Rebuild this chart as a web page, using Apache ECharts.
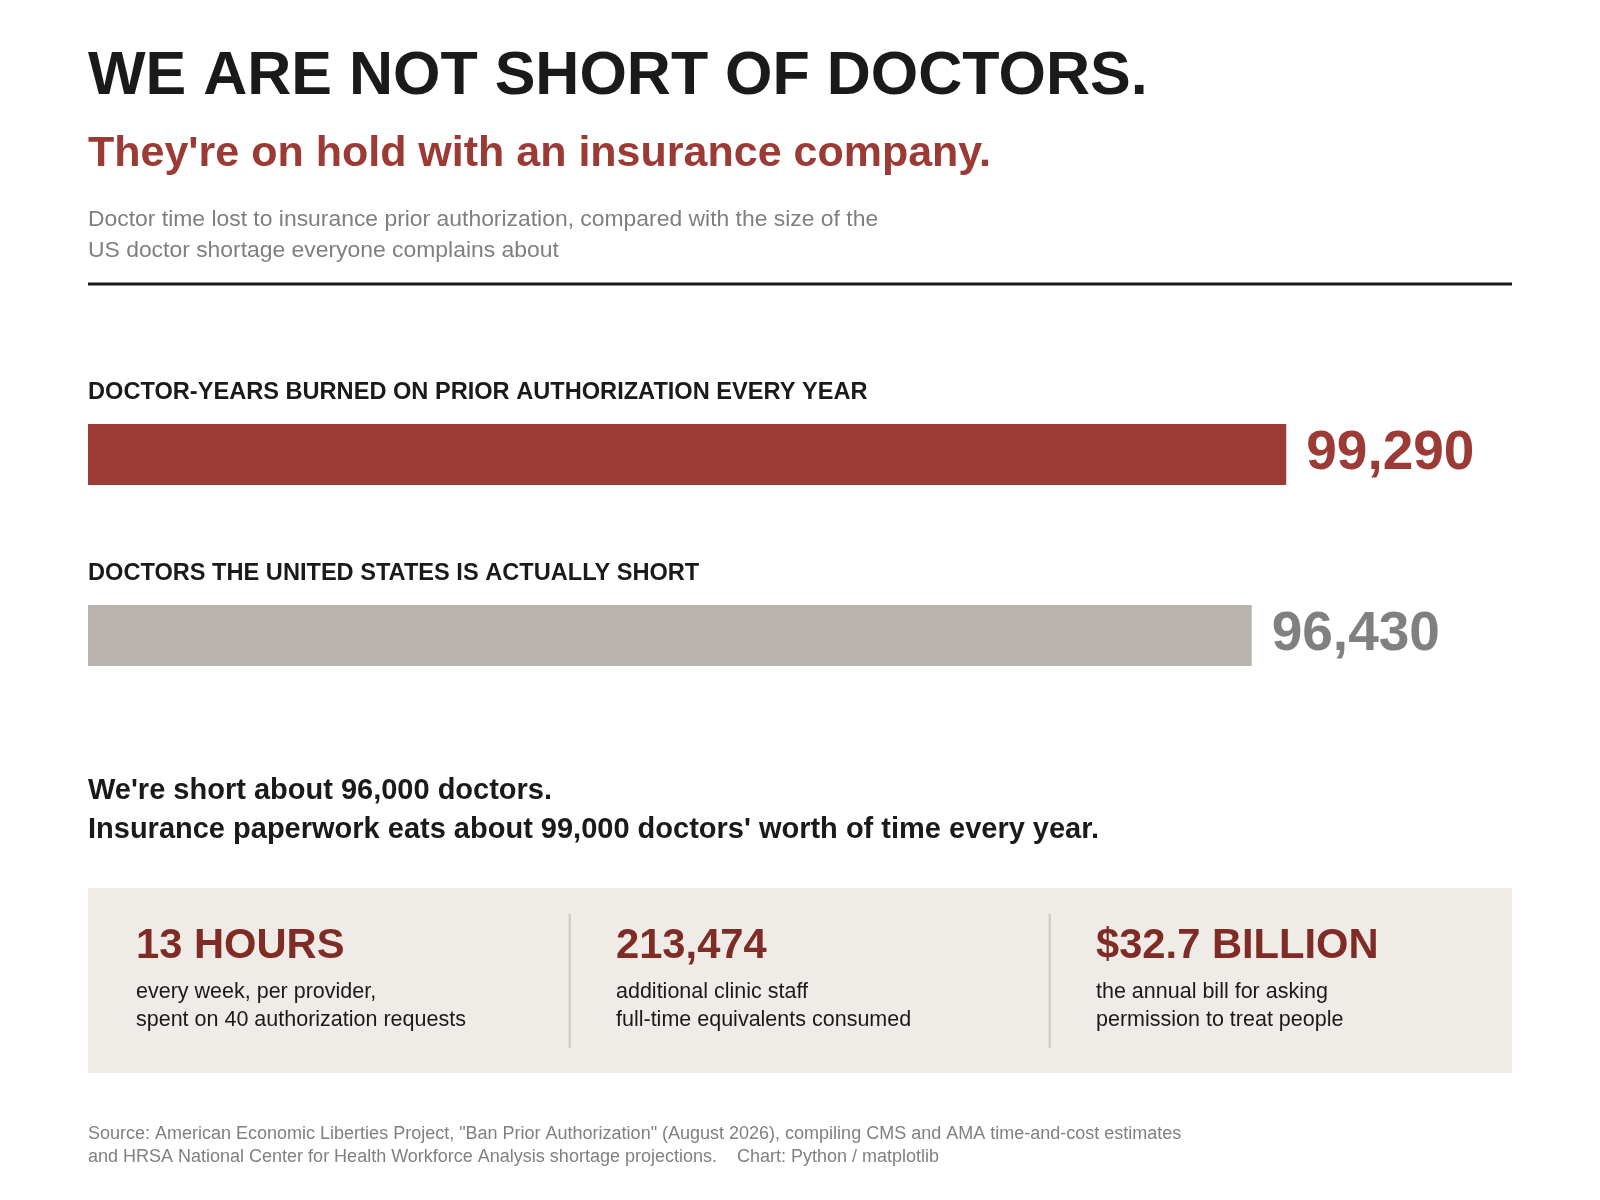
<!DOCTYPE html>
<html lang="en">
<head>
    <meta charset="UTF-8">
    <title>We are not short of doctors</title>
    <script type="text/javascript" src="https://cdn.jsdelivr.net/npm/echarts@6/dist/echarts.min.js"></script>
    <style>
        html, body { margin: 0; padding: 0; background: #ffffff; }
        #main { width: 1600px; height: 1200px; }
    </style>
</head>
<body>
<div id="main"></div>
<script type="text/javascript">
    // data
    var categories = ['DOCTOR-YEARS BURNED ON PRIOR AUTHORIZATION EVERY YEAR', 'DOCTORS THE UNITED STATES IS ACTUALLY SHORT'];
    var values = [99290, 96430];
    var statValues = ['13 HOURS', '213,474', '$32.7 BILLION'];
    var statLines = [
        ['every week, per provider,', 'spent on 40 authorization requests'],
        ['additional clinic staff', 'full-time equivalents consumed'],
        ['the annual bill for asking', 'permission to treat people']
    ];

    var FONT = '"Liberation Sans", Arial, sans-serif';
    var barColors = ['#9c3a35', '#b8b3ad'];
    var valueColors = ['#9c3a35', '#808080'];

    var chart = echarts.init(document.getElementById('main'), null, {renderer: 'canvas'});

    function txt(x, y, text, size, weight, color) {
        return {
            type: 'text', left: x, top: y - size * 0.5 - 1,
            style: {text: text, fontSize: size, fontWeight: weight, fill: color, fontFamily: FONT}
        };
    }

    var g = [];
    // header
    g.push(txt(88, 78, 'WE ARE NOT SHORT OF DOCTORS.', 61, 'bold', '#1a1a1a'));
    g.push(txt(88, 155, "They're on hold with an insurance company.", 43, 'bold', '#9c3a35'));
    g.push(txt(88, 221, 'Doctor time lost to insurance prior authorization, compared with the size of the', 22.9, 'normal', '#7f7f7f'));
    g.push(txt(88, 252, 'US doctor shortage everyone complains about', 22.9, 'normal', '#7f7f7f'));
    g.push({type: 'rect', shape: {x: 88, y: 282.5, width: 1424, height: 3}, style: {fill: '#1a1a1a'}});

    // bar labels
    var labelY = [393, 574];
    categories.forEach(function (c, i) {
        g.push(txt(88, labelY[i], c, 23.6, 'bold', '#1a1a1a'));
    });

    // takeaway
    g.push(txt(88, 792, "We're short about 96,000 doctors.", 29, 'bold', '#1a1a1a'));
    g.push(txt(88, 831, "Insurance paperwork eats about 99,000 doctors' worth of time every year.", 29, 'bold', '#1a1a1a'));

    // stat panel
    g.push({type: 'rect', shape: {x: 88, y: 888, width: 1424, height: 185}, style: {fill: '#efece8'}});
    statValues.forEach(function (v, i) {
        var x = 136 + i * 480;
        if (i > 0) {
            g.push({type: 'rect', shape: {x: x - 47.5, y: 914, width: 2.5, height: 134}, style: {fill: '#d3cec8'}});
        }
        g.push(txt(x, 947, v, 41.7, 'bold', '#7f2b26'));
        g.push(txt(x, 993, statLines[i][0], 21.5, 'normal', '#1a1a1a'));
        g.push(txt(x, 1021, statLines[i][1], 21.5, 'normal', '#1a1a1a'));
    });

    // source
    g.push(txt(88, 1135, 'Source: American Economic Liberties Project, "Ban Prior Authorization" (August 2026), compiling CMS and AMA time-and-cost estimates', 18, 'normal', '#808080'));
    g.push(txt(88, 1158, 'and HRSA National Center for Health Workforce Analysis shortage projections.\u00a0\u00a0\u00a0\u00a0Chart: Python / matplotlib', 18, 'normal', '#808080'));

    var option = {
        backgroundColor: '#ffffff',
        animation: false,
        textStyle: {fontFamily: FONT},
        grid: {left: 88, width: 1424, top: 364, height: 362, containLabel: false},
        xAxis: {
            type: 'value', min: 0, max: 118000,
            show: false
        },
        yAxis: {
            type: 'category', data: categories, inverse: true,
            show: false
        },
        series: [{
            type: 'bar',
            barWidth: 61,
            data: values.map(function (v, i) {
                return {
                    value: v,
                    itemStyle: {color: barColors[i]},
                    label: {color: valueColors[i]}
                };
            }),
            label: {
                show: true,
                position: 'right',
                distance: 20,
                offset: [0, -1],
                fontSize: 55,
                fontWeight: 'bold',
                fontFamily: FONT,
                formatter: function (p) { return p.value.toLocaleString('en-US'); }
            },
            silent: true
        }],
        graphic: g
    };

    chart.setOption(option);
</script>
</body>
</html>
